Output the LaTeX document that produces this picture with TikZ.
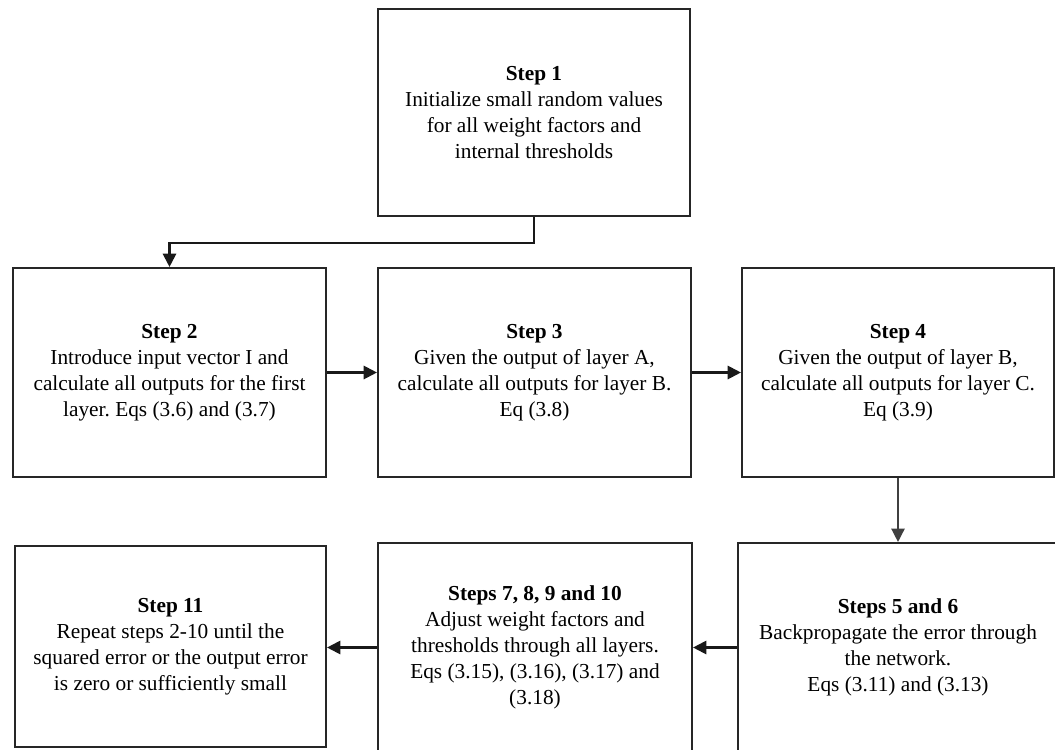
\documentclass[tikz,border=0pt]{standalone}
\usepackage{fontspec}
\setmainfont{Liberation Serif}
\usetikzlibrary{arrows.meta}
\frenchspacing
\begin{document}
\begin{tikzpicture}[x=0.75pt,y=-0.75pt,
  stepbox/.style={draw=black!85,line width=1.6pt,fill=white,align=center,
    font=\fontsize{16}{19.5}\selectfont,inner sep=0pt},
  box/.style 2 args={stepbox,minimum width=#1,minimum height=#2},
  flow/.style={draw=black!90,line width=1.6pt,-{Triangle[length=10pt,width=10pt]}},
  thinflow/.style={draw=black!75,line width=1.1pt,-{Triangle[length=10pt,width=10pt]}}]
\useasboundingbox[fill=white] (0,0) rectangle (1055,749);

% top row
\node[box={234pt}{155.25pt}] (s1) at (534,112.5)
  {\textbf{Step 1}\\Initialize small random values\\for all weight factors and\\internal thresholds};

% middle row
\node[box={234.75pt}{156.75pt}] (s2) at (169.5,372.5)
  {\textbf{Step 2}\\Introduce input vector I and\\calculate all outputs for the first\\layer. Eqs (3.6) and (3.7)};
\node[box={234.75pt}{156.75pt}] (s3) at (534.5,372.5)
  {\textbf{Step 3}\\Given the output of layer A,\\calculate all outputs for layer B.\\Eq (3.8)};
\node[box={234pt}{156.75pt}] (s4) at (898,372.5)
  {\textbf{Step 4}\\Given the output of layer B,\\calculate all outputs for layer C.\\Eq (3.9)};

% bottom row
\node[box={233.25pt}{150.75pt}] (s11) at (170.5,646.5)
  {\textbf{Step 11}\\Repeat steps 2-10 until the\\squared error or the output error\\is zero or sufficiently small};
\node[box={235.5pt}{156.75pt}] (s710) at (535,647.5)
  {\textbf{Steps 7, 8, 9 and 10}\\Adjust weight factors and\\thresholds through all layers.\\Eqs (3.15), (3.16), (3.17) and\\(3.18)};
\node[box={240pt}{156.75pt}] (s56) at (898,647.5)
  {\textbf{Steps 5 and 6}\\Backpropagate the error through\\the network.\\Eqs (3.11) and (3.13)};

% connectors
\draw[flow] (s1.south) -- ++(0,26) -| (s2.north);
\draw[flow] (s2.east) -- (s3.west);
\draw[flow] (s3.east) -- (s4.west);
\draw[thinflow] (s4.south) -- (s56.north);
\draw[flow] (s56.west) -- (s710.east);
\draw[flow] (s710.west) -- (s710.west -| s11.east);
\end{tikzpicture}
\end{document}
